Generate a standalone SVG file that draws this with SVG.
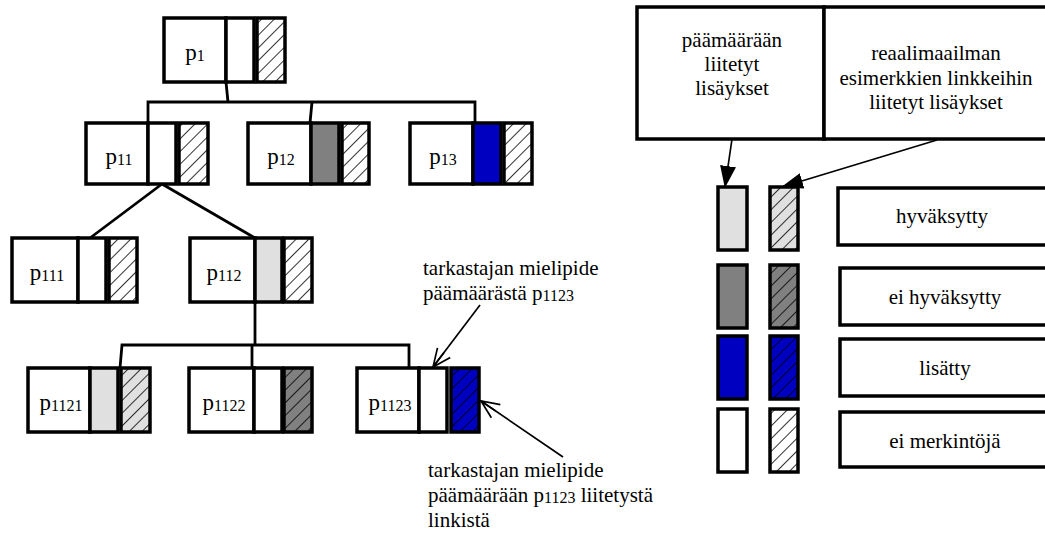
<svg xmlns="http://www.w3.org/2000/svg" width="1045" height="538" viewBox="0 0 1045 538" font-family="'Liberation Serif', 'DejaVu Serif', serif">
  <style>
    .box { fill: #ffffff; stroke: #000000; stroke-width: 3.5; }
    .hatch { fill: url(#hatch); stroke: #000000; stroke-width: 3.5; }
    .white { fill: #ffffff; }
    .light { fill: #e0e0e0; }
    .gray { fill: #808080; }
    .blue { fill: #0000c0; }
    .line { fill: none; stroke: #000000; stroke-width: 2.8; }
    .thin { fill: none; stroke: #000000; stroke-width: 1.7; }
    .lbl { font-size: 23px; }
    .sub { font-size: 16px; }
    .note { font-size: 21px; }
  </style>
  <defs>
    <!-- diagonal hatching drawn over a filled cell -->
    <pattern id="hatch" patternUnits="userSpaceOnUse" width="9" height="9" patternTransform="rotate(45)">
      <line x1="0" y1="0" x2="0" y2="9" stroke="#000000" stroke-width="1.6"/>
    </pattern>
    <marker id="open" viewBox="0 0 20 20" refX="19" refY="10" markerWidth="20" markerHeight="20" markerUnits="userSpaceOnUse" orient="auto">
      <path d="M1,2 L19,10 L1,18 M19,10 L1,10" fill="none" stroke="#000000" stroke-width="1.7"/>
    </marker>
    <marker id="solid" viewBox="0 0 22 16" refX="21" refY="8" markerWidth="22" markerHeight="16" markerUnits="userSpaceOnUse" orient="auto">
      <path d="M0,0 L22,8 L0,16 Z" fill="#000000"/>
    </marker>
  </defs>

  <!-- tree connectors -->
  <g id="connectors">
    <path class="line" d="M226,82 L228,102"/>
    <path class="line" d="M148,123 L148,102 L475,102 L475,123"/>
    <path class="line" d="M312,102 L310,123"/>
    <path class="line" d="M162,184 L90,238"/>
    <path class="line" d="M162,184 L255,238"/>
    <path class="line" d="M255,302 L255,345"/>
    <path class="line" d="M120,368 L122,345 L409,345 L409,368"/>
    <path class="line" d="M252,345 L252,368"/>
    <path class="thin" d="M480,305 L433,367" marker-end="url(#open)"/>
    <path class="thin" d="M563,457 L481,401" marker-end="url(#open)"/>
    <path class="thin" d="M732,139 L725,187" marker-end="url(#solid)"/>
    <path class="thin" d="M937,140 L782,187" marker-end="url(#solid)"/>
  </g>

  <!-- tree nodes: label box, goal cell, hatched link cell -->
  <g id="p1">
    <rect class="box" x="164" y="18" width="62" height="64"/>
    <rect class="box white" x="226" y="18" width="28" height="64"/>
    <rect class="white" x="257" y="18" width="28" height="64"/><rect class="hatch" x="257" y="18" width="28" height="64"/>
    <text class="lbl" x="195" y="60" text-anchor="middle">p<tspan class="sub" dy="1">1</tspan></text>
  </g>
  <g id="p11">
    <rect class="box" x="86" y="123" width="62" height="61"/>
    <rect class="box white" x="148" y="123" width="28" height="61"/>
    <rect class="white" x="179" y="123" width="29" height="61"/><rect class="hatch" x="179" y="123" width="29" height="61"/>
    <text class="lbl" x="119" y="164" text-anchor="middle">p<tspan class="sub" dy="1">11</tspan></text>
  </g>
  <g id="p12">
    <rect class="box" x="248" y="123" width="63" height="61"/>
    <rect class="box gray" x="311" y="123" width="28" height="61"/>
    <rect class="white" x="342" y="123" width="27" height="61"/><rect class="hatch" x="342" y="123" width="27" height="61"/>
    <text class="lbl" x="281" y="164" text-anchor="middle">p<tspan class="sub" dy="1">12</tspan></text>
  </g>
  <g id="p13">
    <rect class="box" x="410" y="123" width="63" height="61"/>
    <rect class="box blue" x="473" y="123" width="28" height="61"/>
    <rect class="white" x="504" y="123" width="28" height="61"/><rect class="hatch" x="504" y="123" width="28" height="61"/>
    <text class="lbl" x="443" y="164" text-anchor="middle">p<tspan class="sub" dy="1">13</tspan></text>
  </g>
  <g id="p111">
    <rect class="box" x="12" y="238" width="66" height="64"/>
    <rect class="box white" x="78" y="238" width="28" height="64"/>
    <rect class="white" x="109" y="238" width="28" height="64"/><rect class="hatch" x="109" y="238" width="28" height="64"/>
    <text class="lbl" x="47" y="280" text-anchor="middle">p<tspan class="sub" dy="1">111</tspan></text>
  </g>
  <g id="p112">
    <rect class="box" x="190" y="238" width="65" height="64"/>
    <rect class="box light" x="255" y="238" width="27" height="64"/>
    <rect class="white" x="284" y="238" width="28" height="64"/><rect class="hatch" x="284" y="238" width="28" height="64"/>
    <text class="lbl" x="224" y="280" text-anchor="middle">p<tspan class="sub" dy="1">112</tspan></text>
  </g>
  <g id="p1121">
    <rect class="box" x="28" y="368" width="62" height="64"/>
    <rect class="box light" x="90" y="368" width="28" height="64"/>
    <rect class="light" x="121" y="368" width="29" height="64"/><rect class="hatch" x="121" y="368" width="29" height="64"/>
    <text class="lbl" x="61" y="410" text-anchor="middle">p<tspan class="sub" dy="1">1121</tspan></text>
  </g>
  <g id="p1122">
    <rect class="box" x="189" y="368" width="65" height="64"/>
    <rect class="box white" x="254" y="368" width="28" height="64"/>
    <rect class="gray" x="284" y="368" width="28" height="64"/><rect class="hatch" x="284" y="368" width="28" height="64"/>
    <text class="lbl" x="224" y="410" text-anchor="middle">p<tspan class="sub" dy="1">1122</tspan></text>
  </g>
  <g id="p1123">
    <rect class="box" x="357" y="368" width="62" height="64"/>
    <rect class="box white" x="419" y="368" width="28" height="64"/>
    <rect class="blue" x="451" y="368" width="28" height="64"/><rect class="hatch" x="451" y="368" width="28" height="64"/>
    <text class="lbl" x="390" y="410" text-anchor="middle">p<tspan class="sub" dy="1">1123</tspan></text>
  </g>

  <!-- annotations -->
  <g id="note-goal">
    <text class="note" x="423" y="275">tarkastajan mielipide</text>
    <text class="note" x="423" y="300">päämäärästä p<tspan class="sub" dy="1">1123</tspan></text>
  </g>
  <g id="note-link">
    <text class="note" x="428" y="477">tarkastajan mielipide</text>
    <text class="note" x="428" y="502">päämäärään p<tspan class="sub" dy="1">1123</tspan><tspan dy="-1"> liitetystä</tspan></text>
    <text class="note" x="428" y="527">linkistä</text>
  </g>

  <!-- legend header -->
  <g id="legend-header">
    <rect class="box" x="637" y="7" width="187" height="132"/>
    <rect class="box" x="824" y="7" width="226" height="132"/>
    <text class="note" x="732" y="47" text-anchor="middle">päämäärään</text>
    <text class="note" x="732" y="71" text-anchor="middle">liitetyt</text>
    <text class="note" x="732" y="95" text-anchor="middle">lisäykset</text>
    <text class="note" x="936" y="60" text-anchor="middle">reaalimaailman</text>
    <text class="note" x="936" y="85" text-anchor="middle">esimerkkien linkkeihin</text>
    <text class="note" x="936" y="109" text-anchor="middle">liitetyt lisäykset</text>
  </g>

  <!-- legend rows -->
  <g id="legend-accepted">
    <rect class="box light" x="718" y="187" width="29" height="63"/>
    <rect class="light" x="770" y="187" width="28" height="63"/><rect class="hatch" x="770" y="187" width="28" height="63"/>
    <rect class="box" x="838" y="188" width="212" height="57"/>
    <text class="note" x="942" y="223" text-anchor="middle">hyväksytty</text>
  </g>
  <g id="legend-rejected">
    <rect class="box gray" x="718" y="265" width="29" height="63"/>
    <rect class="gray" x="770" y="265" width="28" height="63"/><rect class="hatch" x="770" y="265" width="28" height="63"/>
    <rect class="box" x="840" y="268" width="210" height="57"/>
    <text class="note" x="945" y="304" text-anchor="middle">ei hyväksytty</text>
  </g>
  <g id="legend-added">
    <rect class="box blue" x="718" y="336" width="29" height="63"/>
    <rect class="blue" x="770" y="336" width="28" height="63"/><rect class="hatch" x="770" y="336" width="28" height="63"/>
    <rect class="box" x="840" y="339" width="210" height="57"/>
    <text class="note" x="945" y="375" text-anchor="middle">lisätty</text>
  </g>
  <g id="legend-none">
    <rect class="box white" x="718" y="409" width="29" height="63"/>
    <rect class="white" x="770" y="409" width="28" height="63"/><rect class="hatch" x="770" y="409" width="28" height="63"/>
    <rect class="box" x="840" y="412" width="210" height="55"/>
    <text class="note" x="945" y="448" text-anchor="middle">ei merkintöjä</text>
  </g>
</svg>
